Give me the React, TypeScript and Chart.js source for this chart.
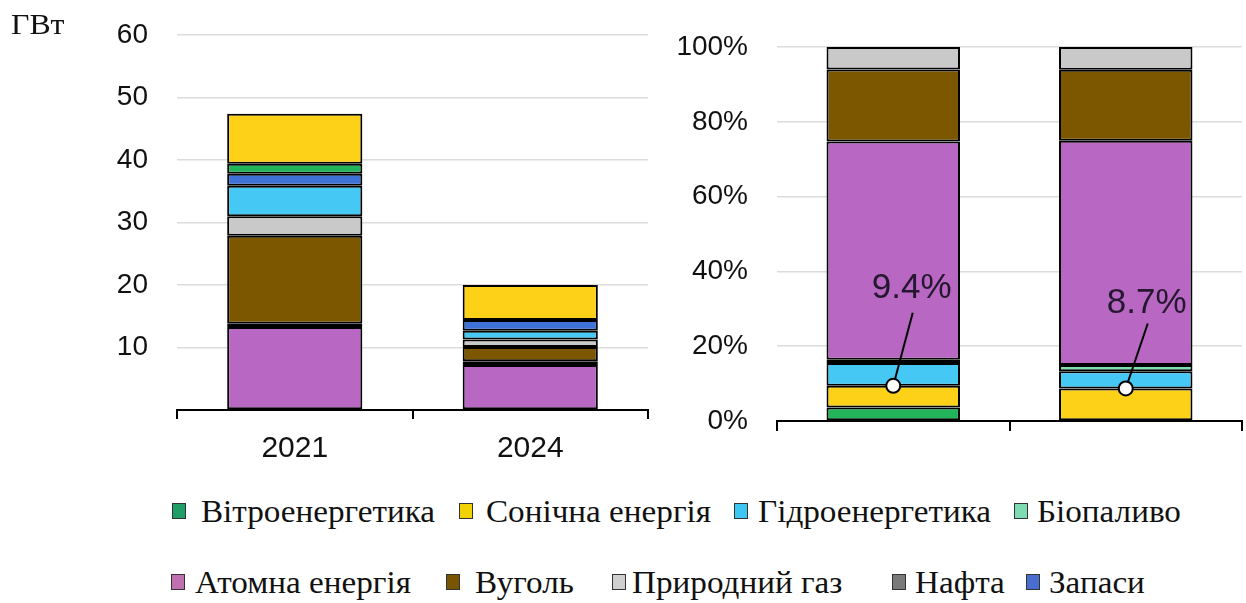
import React, { useEffect, useRef } from 'react';
import { Chart, registerables } from 'chart.js';

Chart.register(...registerables);

// ---------- Data ----------
const leftCategories = ['2021', '2024'];
// Installed capacity, GW (left chart), stacked bottom -> top
const leftAtomna = [13.3, 7.2];
const leftNafta = [0.5, 0.6];
const leftVuhol = [14.1, 2.3];
const leftGas = [3.1, 1.2];
const leftHydro = [4.9, 1.4];
const leftZapasy = [1.9, 1.7];
const leftWind = [1.6, 0];
const leftSolar = [8.0, 5.6];
const leftTickMax = 60;
const leftTickStep = 10;

const rightCategories = ['2021', '2024'];
// Generation share, % (right chart), stacked bottom -> top
const rightWind = [3.6, 0];
const rightSolar = [5.8, 8.7];
const rightHydro = [6.1, 4.6];
const rightBio = [0.9, 1.7];
const rightAtomna = [58.3, 59.9];
const rightVuhol = [19.3, 19.0];
const rightGas = [6.0, 6.1];
const rightTickMax = 100;
const rightTickStep = 20;

const calloutValues = [9.4, 8.7];
const calloutLabels = ['9.4%', '8.7%'];

const unitLabel = 'ГВт';

const legendRow1 = ['Вітроенергетика', 'Сонічна енергія', 'Гідроенергетика', 'Біопаливо'];
const legendRow2 = ['Атомна енергія', 'Вуголь', 'Природний газ', 'Нафта', 'Запаси'];

// ---------- Styles ----------
const COL = {
  wind: '#22b45a',
  solar: '#fdd118',
  hydro: '#45c9f4',
  bio: '#7de0b2',
  atomna: '#b867c2',
  coal: '#7c5700',
  gas: '#c9c9c9',
  nafta: '#5a5a5a',
  zapasy: '#3f72d6',
};
const LEG = {
  wind: '#1f9e68',
  solar: '#f2d200',
  hydro: '#3ec6f2',
  bio: '#7ddcb4',
  atomna: '#c06fb0',
  coal: '#7a5500',
  gas: '#cfcfcf',
  nafta: '#7a7a7a',
  zapasy: '#4a6ed0',
};

const SANS = '"Liberation Sans", Arial, sans-serif';
const SERIF = '"Liberation Serif", "Times New Roman", serif';

const ds = (label: string, data: number[], color: string) => ({
  label,
  data,
  backgroundColor: color,
  borderColor: '#000',
  borderWidth: 2,
  borderSkipped: false as const,
  barPercentage: 0.574,
  categoryPercentage: 1,
});

const calloutOffsets = [
  { lx: 19.5, ly: 73, tx: 18.5, ty: 98 },
  { lx: 22, ly: 65, tx: 21, ty: 85 },
];

const calloutPlugin = {
  id: 'callouts',
  afterDatasetsDraw(chart: any) {
    const { ctx } = chart;
    const x = chart.scales.x;
    const y = chart.scales.y;
    calloutValues.forEach((v, i) => {
      const px = x.getPixelForValue(i);
      const py = y.getPixelForValue(v);
      const o = calloutOffsets[i];
      ctx.save();
      ctx.strokeStyle = '#000';
      ctx.lineWidth = 2;
      ctx.beginPath();
      ctx.moveTo(px, py);
      ctx.lineTo(px + o.lx, py - o.ly);
      ctx.stroke();
      ctx.beginPath();
      ctx.arc(px, py, 7, 0, Math.PI * 2);
      ctx.fillStyle = '#fff';
      ctx.fill();
      ctx.stroke();
      ctx.font = `35px ${SANS}`;
      ctx.textAlign = 'center';
      ctx.textBaseline = 'middle';
      ctx.fillStyle = '#24172f';
      ctx.fillText(calloutLabels[i], px + o.tx, py - o.ty);
      ctx.restore();
    });
  },
};

function makeOptions(opts: {
  yWidth: number;
  xHeight: number;
  padTop: number;
  padRight: number;
  max: number;
  step: number;
  fmt: (v: number) => string;
  showX: boolean;
  tickLen: number;
}) {
  return {
    responsive: false,
    animation: false as const,
    layout: { padding: { top: opts.padTop, right: opts.padRight, left: 0, bottom: 0 } },
    plugins: { legend: { display: false }, tooltip: { enabled: false } },
    scales: {
      x: {
        stacked: true,
        offset: true,
        border: { display: true, color: '#000', width: 2 },
        grid: {
          display: true,
          offset: true,
          drawOnChartArea: false,
          drawTicks: true,
          tickLength: opts.tickLen,
          color: '#000',
          lineWidth: 2,
        },
        ticks: {
          display: opts.showX,
          color: '#111',
          padding: 12,
          font: { family: SANS, size: 30 },
        },
        afterFit: (s: any) => {
          s.height = opts.xHeight;
        },
      },
      y: {
        stacked: true,
        min: 0,
        max: opts.max,
        border: { display: false },
        grid: {
          drawTicks: true,
          tickLength: 12,
          tickColor: 'rgba(0,0,0,0)',
          color: (c: any) => (c.tick && c.tick.value === 0 ? 'rgba(0,0,0,0)' : '#dcdcdc'),
          lineWidth: 1.5,
        },
        ticks: {
          stepSize: opts.step,
          padding: 17,
          color: '#111',
          font: { family: SANS, size: 28 },
          callback: (v: any) => opts.fmt(Number(v)),
        },
        afterFit: (s: any) => {
          s.width = opts.yWidth;
        },
      },
    },
  };
}

function LeftChart() {
  const ref = useRef<HTMLCanvasElement>(null);
  useEffect(() => {
    if (!ref.current) return;
    const chart = new Chart(ref.current, {
      type: 'bar',
      data: {
        labels: leftCategories,
        datasets: [
          ds('Атомна енергія', leftAtomna, COL.atomna),
          ds('Нафта', leftNafta, COL.nafta),
          ds('Вуголь', leftVuhol, COL.coal),
          ds('Природний газ', leftGas, COL.gas),
          ds('Гідроенергетика', leftHydro, COL.hydro),
          ds('Запаси', leftZapasy, COL.zapasy),
          ds('Вітроенергетика', leftWind, COL.wind),
          ds('Сонічна енергія', leftSolar, COL.solar),
        ],
      },
      options: makeOptions({
        yWidth: 177,
        xHeight: 70,
        padTop: 35,
        padRight: 12,
        max: leftTickMax,
        step: leftTickStep,
        fmt: (v) => (v === 0 ? '' : String(v)),
        showX: true,
        tickLen: 9,
      }) as any,
    });
    return () => chart.destroy();
  }, []);
  return <canvas ref={ref} width={660} height={480} />;
}

function RightChart() {
  const ref = useRef<HTMLCanvasElement>(null);
  useEffect(() => {
    if (!ref.current) return;
    const chart = new Chart(ref.current, {
      type: 'bar',
      data: {
        labels: rightCategories,
        datasets: [
          ds('Вітроенергетика', rightWind, COL.wind),
          ds('Сонічна енергія', rightSolar, COL.solar),
          ds('Гідроенергетика', rightHydro, COL.hydro),
          ds('Біопаливо', rightBio, COL.bio),
          ds('Атомна енергія', rightAtomna, COL.atomna),
          ds('Вуголь', rightVuhol, COL.coal),
          ds('Природний газ', rightGas, COL.gas),
        ],
      },
      options: makeOptions({
        yWidth: 127,
        xHeight: 59,
        padTop: 47,
        padRight: 4,
        max: rightTickMax,
        step: rightTickStep,
        fmt: (v) => `${v}%`,
        showX: false,
        tickLen: 10,
      }) as any,
      plugins: [calloutPlugin],
    });
    return () => chart.destroy();
  }, []);
  return <canvas ref={ref} width={596} height={480} />;
}

const row1Pos = [
  { sx: 172, tx: 201, color: LEG.wind },
  { sx: 459, tx: 486, color: LEG.solar },
  { sx: 734, tx: 758, color: LEG.hydro },
  { sx: 1014, tx: 1037, color: LEG.bio },
];
const row2Pos = [
  { sx: 171, tx: 195, color: LEG.atomna },
  { sx: 446, tx: 475, color: LEG.coal },
  { sx: 612, tx: 632, color: LEG.gas },
  { sx: 892, tx: 915, color: LEG.nafta },
  { sx: 1026, tx: 1049, color: LEG.zapasy },
];

function LegendRow({ names, pos, top }: { names: string[]; pos: any[]; top: number }) {
  return (
    <>
      {names.map((n, i) => (
        <React.Fragment key={n}>
          <div
            style={{
              position: 'absolute',
              left: pos[i].sx,
              top: top + 5,
              width: 12,
              height: 14,
              background: pos[i].color,
              border: '1.5px solid #333',
            }}
          />
          <div
            style={{
              position: 'absolute',
              left: pos[i].tx,
              top: top - 2,
              fontFamily: SERIF,
              fontSize: 31,
              lineHeight: '31px',
              color: '#111',
              whiteSpace: 'nowrap',
              transform: 'scaleX(1.07)',
              transformOrigin: 'left center',
            }}
          >
            {n}
          </div>
        </React.Fragment>
      ))}
    </>
  );
}

export default function App() {
  return (
    <div
      style={{
        position: 'absolute',
        left: 0,
        top: 0,
        width: 1246,
        height: 603,
        background: '#fff',
        overflow: 'hidden',
      }}
    >
      <div style={{ position: 'absolute', left: 0, top: 0 }}>
        <LeftChart />
      </div>
      <div style={{ position: 'absolute', left: 650, top: 0 }}>
        <RightChart />
      </div>
      <div
        style={{
          position: 'absolute',
          left: 11,
          top: 9,
          fontFamily: SERIF,
          fontSize: 30,
          lineHeight: '30px',
          color: '#111',
          transform: 'scaleX(1.06)',
          transformOrigin: 'left center',
        }}
      >
        {unitLabel}
      </div>
      <LegendRow names={legendRow1} pos={row1Pos} top={498} />
      <LegendRow names={legendRow2} pos={row2Pos} top={569} />
    </div>
  );
}
